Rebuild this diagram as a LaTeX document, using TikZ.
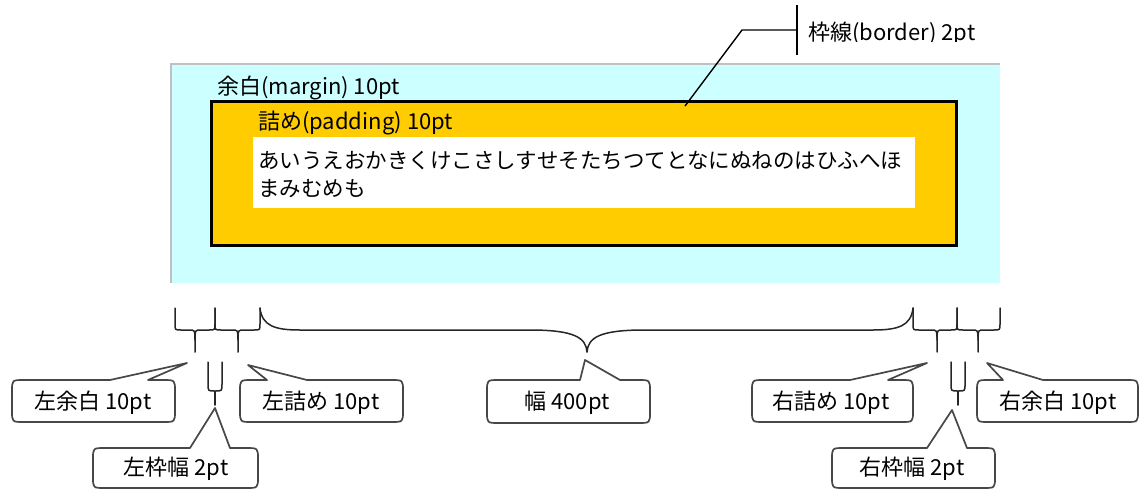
\documentclass[tikz,border=0pt]{standalone}
\usepackage{fontspec}
\setmainfont{Noto Sans CJK JP}
\newcommand\lblfont{\fontsize{22}{26}\selectfont}
\newcommand\txtfont{\fontsize{21.5}{28}\selectfont}
% bubble: x1 y1 x2 y2 basex1 basex2 tipx tipy
\newcommand\mybubble[8]{%
  \draw[bubble] (#7,#8) -- (#6,#2) -- ({#3-12},#2) .. controls (#3,#2) .. (#3,{#2+11})
    -- (#3,{#4-11}) .. controls (#3,#4) .. ({#3-12},#4) -- ({#1+12},#4)
    .. controls (#1,#4) .. (#1,{#4-11}) -- (#1,{#2+11}) .. controls (#1,#2) .. ({#1+12},#2)
    -- (#5,#2) -- cycle;}
% small brace: left, middle, right
\newcommand\mysmallbrace[3]{%
  \draw[brace] (#1,308) -- (#1,324) .. controls (#1,330) .. ({#1+6},330) -- ({#2-6},330)
    .. controls (#2,330) .. (#2,340) -- (#2,352);
  \draw[brace] (#2,340) .. controls (#2,330) .. ({#2+6},330) -- ({#3-6},330)
    .. controls (#3,330) .. (#3,324) -- (#3,308);}
\newcommand\myfork[1]{%
  \draw[brace] ({#1-7},362) -- ({#1-7},384) .. controls ({#1-7},391) .. (#1,391)
    .. controls ({#1+7},391) .. ({#1+7},384) -- ({#1+7},362);
  \draw[brace] (#1,391) -- (#1,405);}
\tikzset{
  brace/.style={draw=black!85, line width=1.5pt, line cap=round},
  bubble/.style={draw=black!72, line width=1.7pt, fill=white, line join=round},
  lbl/.style={anchor=base, inner sep=0pt, font=\lblfont},
}
\begin{document}
\begin{tikzpicture}[x=1pt,y=-1pt]
\useasboundingbox (0,0) rectangle (1140,490);
% margin area
\fill[fill={rgb,255:red,204;green,255;blue,255}] (171,64) rectangle (1000,283);
\draw[draw={rgb,255:red,192;green,192;blue,192}, line width=1.5pt] (171,283) -- (171,64) -- (1000,64);
% border + padding
\draw[fill={rgb,255:red,255;green,204;blue,0}, draw=black, line width=3pt] (211.5,101.5) rectangle (956.5,245.5);
% content
\fill[white] (253,137) rectangle (915,208);
\node[anchor=base west, inner sep=0pt, font=\lblfont] (marginlbl) at (217,94) {余白(margin) 10pt};
\node[anchor=base west, inner sep=0pt, font=\lblfont] (paddinglbl) at (258,129) {詰め(padding) 10pt};
\node[anchor=base west, inner sep=0pt, font=\txtfont] (line1) at (258,168) {あいうえおかきくけこさしすせそたちつてとなにぬねのはひふへほ};
\node[anchor=base west, inner sep=0pt, font=\txtfont] (line2) at (258,196) {まみむめも};
% border leader
\coordinate (bpt) at (685,106);
\coordinate (bbend) at (742,30);
\coordinate (bbar) at (797,30);
\coordinate (bartop) at (797,5);
\coordinate (barbot) at (797,55);
\draw[black, line width=1.4pt] (bpt) -- (bbend) -- (bbar);
\draw[black, line width=2pt] (bartop) -- (barbot);
\begin{scope}
\clip (800,0) rectangle (1140,41);
\node[anchor=base west, inner sep=0pt, font=\lblfont] (borderlbl) at (808,40) {枠線(border) 2pt};
\end{scope}
% braces
\mysmallbrace{175}{195}{215}
\mysmallbrace{215}{238}{260}
\draw[brace] (260,308) .. controls (262,326) and (275,330) .. (300,330) -- (530,330)
  .. controls (575,330) and (586,338) .. (587,352);
\draw[brace] (587,352) .. controls (588,338) and (599,330) .. (644,330) -- (873,330)
  .. controls (898,330) and (911,326) .. (913,308);
\mysmallbrace{913}{937}{957}
\mysmallbrace{957}{978}{1000}
\myfork{215}
\myfork{958}
% bubbles
\mybubble{12}{380}{175}{422}{110}{148}{187}{363}
\node[lbl] (lmargin) at (93,409) {左余白 10pt};
\mybubble{240}{380}{403}{422}{267}{307}{248}{365}
\node[lbl] (lpad) at (321,409) {左詰め 10pt};
\mybubble{487}{380}{650}{423}{580}{620}{585}{360}
\node[lbl] (width) at (567,409) {幅 400pt};
\mybubble{752}{380}{913}{422}{850}{888}{927}{363}
\node[lbl] (rpad) at (831,409) {右詰め 10pt};
\mybubble{977}{380}{1138}{422}{1003}{1043}{987}{363}
\node[lbl] (rmargin) at (1058,409) {右余白 10pt};
\mybubble{93}{448}{258}{488}{190}{230}{215}{408}
\node[lbl] (lborder) at (176,475) {左枠幅 2pt};
\mybubble{832}{448}{995}{488}{927}{967}{952}{410}
\node[lbl] (rborder) at (912,475) {右枠幅 2pt};
\end{tikzpicture}
\end{document}
